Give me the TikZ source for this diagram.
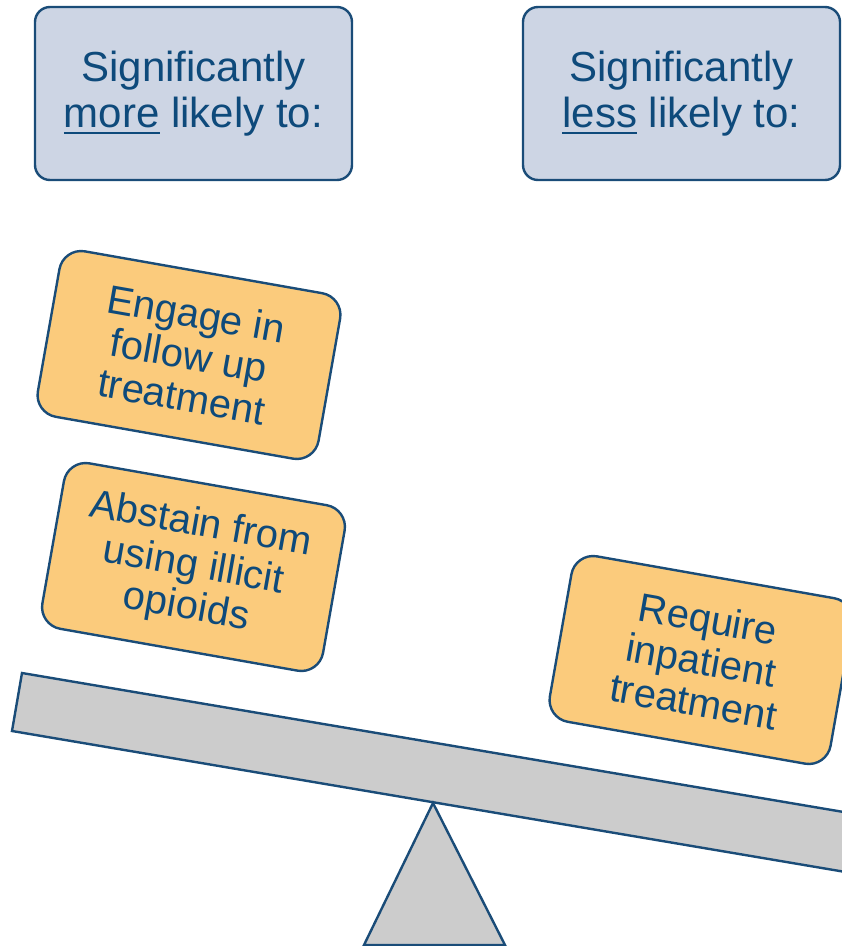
\documentclass[tikz,border=0pt]{standalone}
\usepackage{fontspec}
\setmainfont{Liberation Sans}
\definecolor{edge}{HTML}{1A4C78}
\definecolor{ink}{HTML}{0E4A7B}
\definecolor{headfill}{HTML}{CDD5E4}
\definecolor{notefill}{HTML}{FBCB7C}
\definecolor{beamfill}{HTML}{CCCCCC}
% thick underline placed a little below the baseline
\newcommand\thickul[1]{\leavevmode\setbox0\hbox{#1}\rlap{\rule[-7pt]{\wd0}{2.8pt}}\box0\relax}
\tikzset{
  header/.style={draw=edge, line width=2.4pt, fill=headfill, rounded corners=15pt,
    minimum width=317pt, minimum height=173pt, text=ink, align=center,
    font=\fontsize{42}{46}\selectfont, inner sep=0pt},
  note/.style={draw=edge, line width=2.4pt, fill=notefill, rounded corners=22pt,
    minimum width=285pt, minimum height=168pt, text=ink, align=center,
    font=\fontsize{40}{42}\selectfont, inner sep=0pt, rotate=-10},
  solid part/.style={draw=edge, line width=2.4pt, fill=beamfill, line join=miter},
}
\begin{document}
\begin{tikzpicture}[x=1pt, y=-1pt]
  \clip (0,0) rectangle (842,946);
  % column headings
  \node[header] (more) at (193.5,93.5) {Significantly\\\thickul{more} likely to:};
  \node[header] (less) at (681.5,93.5) {Significantly\\\thickul{less} likely to:};
  % tilted beam and its pivot
  \draw[solid part] (22,673) -- (12,731) -- (998,897.8) -- (1008,839.8) -- cycle;
  \draw[solid part] (433,803) -- (505,945) -- (364,945) -- cycle;
  % outcome notes resting on the beam
  \node[note] (follow) at (189,355) {Engage in\\follow up\\treatment};
  \node[note] (abstain) at (193.5,567) {Abstain from\\using illicit\\opioids};
  \node[note] (inpatient) at (701,660) {Require\\inpatient\\treatment};
\end{tikzpicture}
\end{document}
